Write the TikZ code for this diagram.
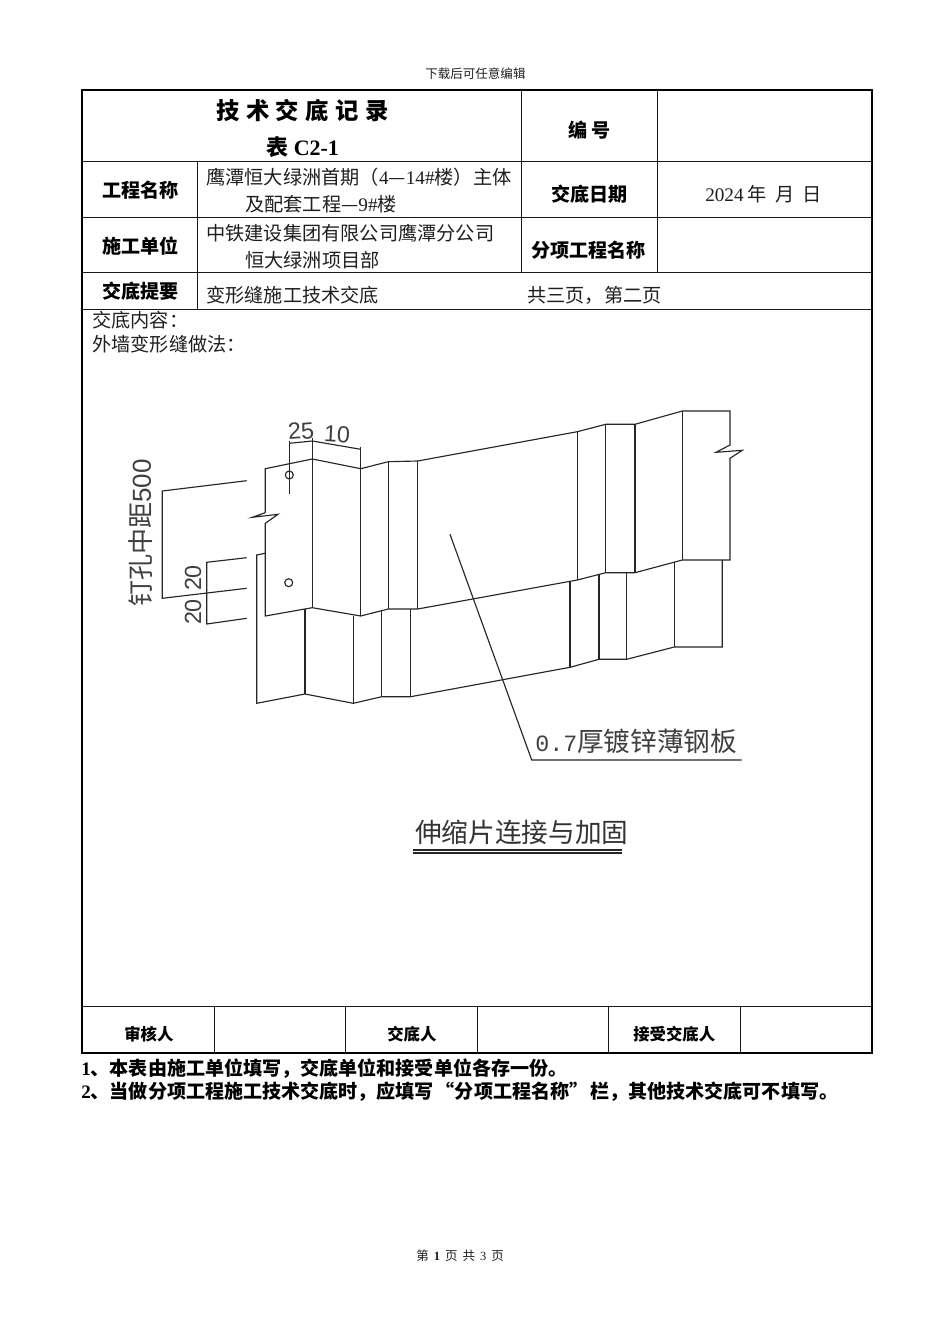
\documentclass[tikz,border=0pt]{standalone}
\usepackage{fontspec}
\setmainfont{Liberation Serif}
\newfontfamily\cjk{Noto Sans CJK SC}
\newfontfamily\cadlat{Liberation Sans}
\newfontfamily\cadmono{Liberation Mono}
\newcommand{\fsz}[1]{\fontsize{#1}{#1}\selectfont}
\tikzset{
  x=0.75pt,y=-0.75pt,
  txt/.style={inner sep=0pt,anchor=west,text=black!88},
  body/.style={txt,font=\fsz{14.4pt}\cjk},
  lab/.style={txt,text=black,font=\fsz{14.3pt}\cjk\bfseries},
  lab2/.style={txt,text=black,font=\fsz{12.3pt}\cjk\bfseries},
  note/.style={txt,text=black,font=\fsz{14.3pt}\cjk\bfseries},
  small/.style={txt,font=\fsz{9.4pt}\cjk},
  outer/.style={line width=1.5pt,black},
  grid/.style={line width=0.75pt,black!90},
  sheet/.style={line width=0.85pt,black!85,line join=miter},
  cad/.style={inner sep=0pt,text=black!75,font=\fsz{17.5pt}\cjk},
}
\begin{document}
\begin{tikzpicture}
\useasboundingbox[fill=white] (0,0) rectangle (950,1344);
% table
\draw[grid] (82,161.7)--(872,161.7) (82,217.5)--(872,217.5) (82,272.5)--(872,272.5) (82,309.5)--(872,309.5) (82,1006)--(872,1006);
\draw[grid] (197,161.7)--(197,309.5) (521,90)--(521,272.5) (657,90)--(657,272.5);
\draw[grid] (214,1006)--(214,1053) (345,1006)--(345,1053) (477,1006)--(477,1053) (608,1006)--(608,1053) (740,1006)--(740,1053);
\draw[outer] (82,90) rectangle (872,1053);
% header and footer
\node[small] (hd) at (425,74) {下载后可任意编辑};
\node[small] (ft) at (416,1256) {第\hspace{0.4em}{\bfseries\rmfamily 1}\hspace{0.4em}页\hspace{0.4em}共\hspace{0.4em}{\rmfamily 3}\hspace{0.4em}页};
% table text
\node[txt,text=black,font=\fsz{17.5pt}\cjk\bfseries] (t1) at (216,110.5) {技\hspace{0.28em}术\hspace{0.28em}交\hspace{0.28em}底\hspace{0.28em}记\hspace{0.28em}录};
\node[txt,text=black,font=\fsz{16.5pt}\bfseries] (t2) at (266,147) {{\cjk 表} C2-1};
\node[lab] (n1) at (568,130) {编 号};
\node[lab] (l1) at (102,190) {工程名称};
\node[lab] (l2) at (102,246) {施工单位};
\node[lab] (l3) at (102,291) {交底提要};
\node[lab] (l4) at (551,194) {交底日期};
\node[lab] (l5) at (531,250) {分项工程名称};
\node[body] (b1) at (206,177) {鹰潭恒大绿洲首期（{\rmfamily 4}—{\rmfamily 14\#}楼）主体};
\node[body] (b2) at (245,204) {及配套工程—{\rmfamily 9\#}楼};
\node[body] (b3) at (206,233) {中铁建设集团有限公司鹰潭分公司};
\node[body] (b4) at (245,260) {恒大绿洲项目部};
\node[body] (b5) at (206,295) {变形缝施工技术交底};
\node[body] (b6) at (527,295) {共三页，第二页};
\node[body] (b7) at (705,194) {{\rmfamily 2024} 年\hspace{0.2em} 月\hspace{0.2em} 日};
\node[body] (b8) at (92,320) {交底内容：};
\node[body] (b9) at (92,344) {外墙变形缝做法：};
\node[lab2] (s1) at (124,1034) {审核人};
\node[lab2] (s2) at (387,1034) {交底人};
\node[lab2] (s3) at (633,1034) {接受交底人};
\node[note] (f1) at (81,1069) {{\rmfamily 1}、本表由施工单位填写，交底单位和接受单位各存一份。};
\node[note] (f2) at (81,1092) {{\rmfamily 2}、当做分项工程施工技术交底时，应填写\hspace{0.1em}“分项工程名称”\hspace{0.1em}栏，其他技术交底可不填写。};
% upper sheet
\draw[sheet] (265.3,512.7)--(265.3,468.7)--(312.3,459)--(360.7,468.7)--(388.3,461.7)--(417.7,461)--(577.3,431.7)--(605.7,424.3)--(635,424.3)--(682.3,411)--(730,411)--(730,445)--(716,452.3)--(742.3,450.3)--(730,458.3)--(730,560)--(682.3,560)--(635,572.7)--(605.7,572.7)--(577.3,580)--(417.7,609)--(388.3,609)--(360.7,616)--(312.3,607.7)--(265.3,616)--(265.3,523.3)--(278,514.3)--(252.3,517.3)--(265.3,512.7);
\foreach \xa/\ya/\yb in {312.3/438/607.7,360.7/446.7/616,388.3/461.7/609,417.7/461/609,577.3/431.7/580,605.7/424.3/572.7,635/424.3/572.7,682.3/411/560}
  \draw[sheet] (\xa,\ya)--(\xa,\yb);
% lower sheet
\draw[sheet] (265.3,553.3)--(256.7,555)--(256.7,703.3)--(305,694)--(353.3,703.3)--(381.7,696.7)--(410.7,696.7)--(570,667.3)--(599,659.3)--(626.7,659.3)--(674.3,647)--(722.3,647)--(722.3,560);
\foreach \xa/\ya/\yb in {305/608.5/694,353.3/615.5/703.3,381.7/610/696.7,410.7/609/696.7,570/581.5/667.3,599/574.3/659.3,626.7/572.7/659.3,674.3/562/647}
  \draw[sheet] (\xa,\ya)--(\xa,\yb);
% holes
\draw[sheet] (289.3,475) circle[radius=4];
\draw[sheet] (288.7,582.7) circle[radius=4];
% dimensions
\draw[sheet] (289.3,443.3)--(312.3,441)--(360.7,449.3);
\draw[sheet] (289.3,441)--(289.3,494);
\draw[sheet] (246.7,480.7)--(162.3,491)--(162.3,598.3)--(246.7,588.3);
\draw[sheet] (246.7,557.7)--(206.7,562.3)--(206.7,624)--(246.7,618.3);
\node[cad,rotate=4] (d1) at (301,431) {\cadlat 25};
\node[cad,rotate=-3] (d2) at (337,434) {\cadlat 10};
\node[cad,rotate=90] (d3) at (193,578) {\cadlat 20};
\node[cad,rotate=90] (d4) at (193,612) {\cadlat 20};
\node[cad,rotate=90,anchor=center,font=\fsz{19.5pt}\cjk] (d5) at (141,533) {钉孔中距{\cadlat 500}};
% leader and captions
\coordinate (la) at (450,534.3);
\coordinate (lb) at (531.7,760);
\coordinate (lc) at (741.7,760);
\draw[sheet] (la)--(lb)--(lc);
\node[txt,text=black!75,font=\fsz{20pt}\cjk] (c1) at (535,741) {{\fsz{17.5pt}\cadmono 0.7}厚镀锌薄钢板};
\node[txt,text=black!80,font=\fsz{20pt}\cjk] (c2) at (415,832) {伸缩片连接与加固};
\coordinate (ua) at (413,850);
\coordinate (ub) at (622,850);
\coordinate (uc) at (413,853);
\coordinate (ud) at (622,853);
\draw[sheet] (ua)--(ub) (uc)--(ud);
\end{tikzpicture}
\end{document}
